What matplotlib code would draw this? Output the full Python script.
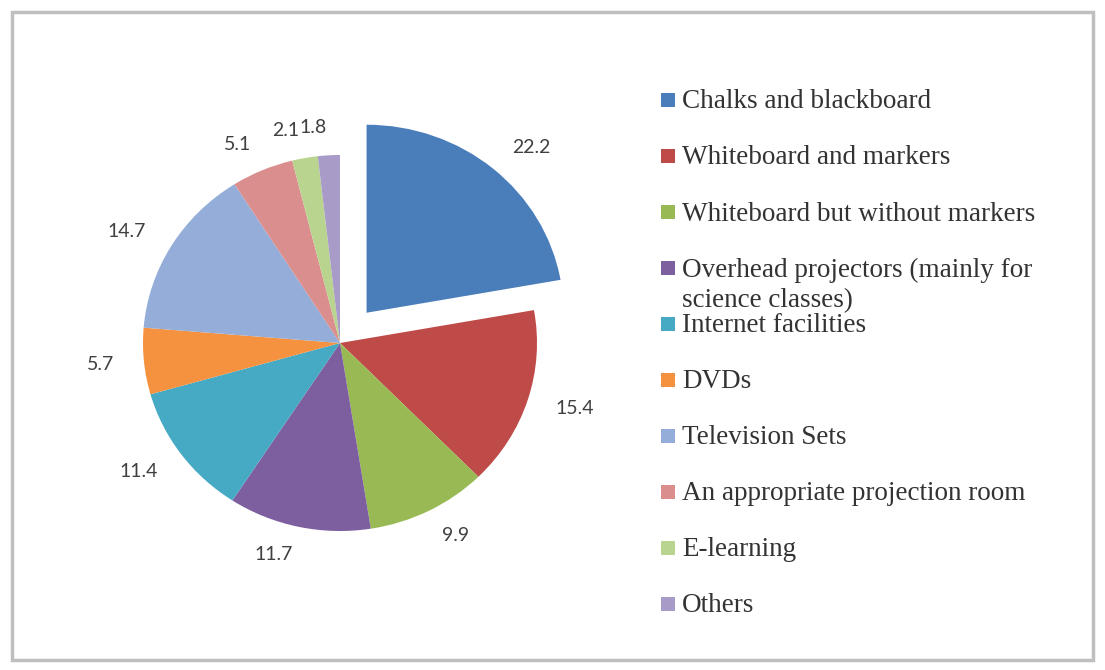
import matplotlib
matplotlib.use("Agg")
import matplotlib.pyplot as plt
from matplotlib.patches import Rectangle

categories = [
    "Chalks and blackboard",
    "Whiteboard and markers",
    "Whiteboard but without markers",
    "Overhead projectors (mainly for\nscience classes)",
    "Internet facilities",
    "DVDs",
    "Television Sets",
    "An appropriate projection room",
    "E-learning",
    "Others",
]
values = [22.2, 15.4, 9.9, 11.7, 11.4, 5.7, 14.7, 5.1, 2.1, 1.8]
value_labels = ["22.2", "15.4", "9.9", "11.7", "11.4", "5.7", "14.7", "5.1", "2.1", "1.8"]
colors = ["#4A7EBB", "#BE4B48", "#98B954", "#7D5FA0", "#46AAC5",
          "#F59240", "#94ADD9", "#DA8F8E", "#B9D48F", "#A89BC8"]
explode = [0.21, 0, 0, 0, 0, 0, 0, 0, 0, 0]

W, H = 1105, 670
fig = plt.figure(figsize=(W / 100, H / 100), dpi=100)
fig.patch.set_facecolor("white")

# pie axes: 1 data unit = 197 px wide, 188 px tall, centred at (340, 343) px
rx, ry = 197, 188
cx, cy = 340, 343
ext = 1.5
ax = fig.add_axes([(cx - ext * rx) / W, (H - cy - ext * ry) / H,
                   2 * ext * rx / W, 2 * ext * ry / H])
ax.pie(values, labels=value_labels, colors=colors, explode=explode,
       startangle=90, counterclock=False, labeldistance=1.15,
       wedgeprops=dict(linewidth=0),
       textprops=dict(family="Lato", fontsize=14, color="#404040"))
ax.set_aspect("auto")
ax.set_xlim(-ext, ext)
ax.set_ylim(-ext, ext)
ax.axis("off")

# legend drawn row by row on the right
row0, step, line_px = 100, 56, 31
mx, msize, tx = 661, 14, 682
for i, (name, col) in enumerate(zip(categories, colors)):
    y = row0 + i * step
    fig.add_artist(Rectangle((mx / W, 1 - (y + msize / 2) / H), msize / W, msize / H,
                             transform=fig.transFigure, facecolor=col,
                             edgecolor="none"))
    for k, line in enumerate(name.split("\n")):
        fig.text(tx / W, 1 - (y + 2 + k * line_px) / H, line, ha="left", va="center",
                 family="Liberation Serif", fontsize=19.5, color="#333333")

# outer chart border
fig.add_artist(Rectangle((12 / W, 10 / H), (1093 - 12) / W, (660 - 12) / H,
                         transform=fig.transFigure, fill=False,
                         edgecolor="#BFBFBF", linewidth=2.5))

fig.savefig("out.png", dpi=100, facecolor="white")
